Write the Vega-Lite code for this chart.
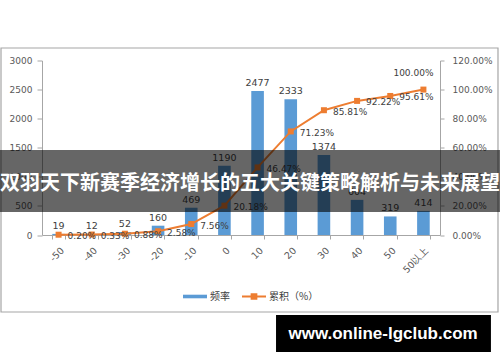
{
  "$schema": "https://vega.github.io/schema/vega-lite/v6.json",
  "width": 398,
  "height": 174.5,
  "autosize": {"type": "none"},
  "padding": {"left": 42, "top": 60.5, "right": 60, "bottom": 127},
  "background": "white",
  "config": {
    "view": {"stroke": null},
    "font": "DejaVu Sans",
    "axis": {"grid": false, "title": null, "domainColor": "#A6A6A6", "tickColor": "#A6A6A6", "labelColor": "#595959", "labelFontSize": 9, "labelFont": "DejaVu Sans", "labelOverlap": false, "labelFlush": false}
  },
  "datasets": {
    "pareto": [
      {"cat": "-50", "freq": 19, "cum": 0.20, "cumText": "0.20%"},
      {"cat": "-40", "freq": 12, "cum": 0.33, "cumText": "0.33%"},
      {"cat": "-30", "freq": 52, "cum": 0.88, "cumText": "0.88%"},
      {"cat": "-20", "freq": 160, "cum": 2.58, "cumText": "2.58%"},
      {"cat": "-10", "freq": 469, "cum": 7.56, "cumText": "7.56%"},
      {"cat": "0", "freq": 1190, "cum": 20.18, "cumText": "20.18%"},
      {"cat": "10", "freq": 2477, "cum": 46.47, "cumText": "46.47%"},
      {"cat": "20", "freq": 2333, "cum": 71.23, "cumText": "71.23%"},
      {"cat": "30", "freq": 1374, "cum": 85.81, "cumText": "85.81%"},
      {"cat": "40", "freq": 604, "cum": 92.22, "cumText": "92.22%"},
      {"cat": "50", "freq": 319, "cum": 95.61, "cumText": "95.61%"},
      {"cat": "50以上", "freq": 414, "cum": 100.00, "cumText": "100.00%"}
    ]
  },
  "layer": [
    {
      "data": {"values": [{}]},
      "mark": {"type": "rect", "fill": "transparent", "stroke": "#A6A6A6", "strokeWidth": 1.2},
      "encoding": {
        "x": {"datum": -0.103, "type": "quantitative", "scale": {"domain": [0, 1], "nice": false, "zero": false}, "axis": null},
        "x2": {"datum": 1.1457},
        "y": {"datum": 1.0716, "type": "quantitative", "scale": {"domain": [0, 1], "nice": false, "zero": false}, "axis": null},
        "y2": {"datum": -0.4413}
      }
    },
    {
      "data": {"name": "pareto"},
      "encoding": {
        "x": {"field": "cat", "type": "nominal", "sort": null, "scale": {"paddingInner": 0.62, "paddingOuter": 0.31},
          "axis": {"labelAngle": -45, "tickBand": "extent", "tickSize": 4, "labelPadding": 6, "labelFontSize": 9.5, "title": null}},
        "y": {"field": "freq", "type": "quantitative", "scale": {"domain": [0, 3000], "nice": false},
          "axis": {"orient": "left", "values": [0, 500, 1000, 1500, 2000, 2500, 3000], "format": "d", "tickSize": 5, "labelPadding": 5, "title": null}}
      },
      "layer": [
        {
          "mark": {"type": "bar"},
          "encoding": {
            "color": {"datum": "频率", "type": "nominal",
              "scale": {"domain": ["频率", "累积（%）"], "range": ["#5B9BD5", "#ED7D31"]},
              "legend": {"orient": "none", "legendX": 141, "legendY": 224, "direction": "horizontal", "title": null,
                "symbolSize": 576, "labelFontSize": 10, "labelColor": "#404040", "labelFont": "Noto Sans CJK SC",
                "columnPadding": 12, "symbolStrokeWidth": 0, "labelOffset": 3,
                "encode": {"symbols": {"update": {
                  "shape": {"signal": "datum.value === '频率' ? 'M-1,-0.15H1V0.15H-1Z' : 'M-1,-0.08H1V0.08H-1ZM-0.28,-0.28H0.28V0.28H-0.28Z'"},
                  "fill": {"signal": "datum.value === '频率' ? '#5B9BD5' : '#ED7D31'"},
                  "stroke": {"value": "transparent"},
                  "opacity": {"value": 1}}}}}}
          }
        },
        {
          "mark": {"type": "text", "baseline": "alphabetic", "dy": -5, "fontSize": 9.5, "color": "#404040"},
          "encoding": {
            "text": {"field": "freq", "type": "quantitative"}
          }
        }
      ]
    },
    {
      "data": {"name": "pareto"},
      "encoding": {
        "x": {"field": "cat", "type": "nominal", "sort": null, "scale": {"paddingInner": 0.62, "paddingOuter": 0.31}, "axis": null},
        "y": {"field": "cum", "type": "quantitative", "scale": {"domain": [0, 120], "nice": false},
          "axis": {"orient": "right", "values": [0, 20, 40, 60, 80, 100, 120], "labelExpr": "format(datum.value, '.2f') + '%'", "tickSize": 4, "labelPadding": 8, "title": null}}
      },
      "layer": [
        {
          "mark": {"type": "line", "strokeWidth": 2},
          "encoding": {
            "color": {"datum": "累积（%）", "type": "nominal"}
          }
        },
        {
          "mark": {"type": "point", "shape": "square", "filled": true, "size": 36, "opacity": 1, "color": "#ED7D31"}
        },
        {
          "transform": [{"filter": "datum.cat !== '50以上'"}],
          "mark": {"type": "text", "align": "left", "baseline": "middle", "dx": 9, "dy": 1.5, "fontSize": 9, "color": "#404040"},
          "encoding": {
            "text": {"field": "cumText"}
          }
        },
        {
          "transform": [{"filter": "datum.cat === '50以上'"}],
          "mark": {"type": "text", "align": "center", "baseline": "middle", "dx": -10, "dy": -16.5, "fontSize": 9, "color": "#404040"},
          "encoding": {
            "text": {"field": "cumText"}
          }
        }
      ]
    },
    {
      "data": {"values": [{}]},
      "layer": [
        {
          "mark": {"type": "rect", "color": "#000000", "opacity": 0.6},
          "encoding": {
            "x": {"datum": -0.11, "type": "quantitative", "scale": {"domain": [0, 1], "nice": false, "zero": false}, "axis": null},
            "x2": {"datum": 1.16},
            "y": {"datum": 0.487, "type": "quantitative", "scale": {"domain": [0, 1], "nice": false, "zero": false}, "axis": null},
            "y2": {"datum": 0.132}
          }
        },
        {
          "mark": {"type": "text", "align": "center", "baseline": "middle", "font": "Noto Sans CJK SC", "fontSize": 20, "fontWeight": "bold", "color": "#FFFFFF"},
          "encoding": {
            "x": {"datum": 0.5226, "type": "quantitative", "scale": {"domain": [0, 1], "nice": false, "zero": false}, "axis": null},
            "y": {"datum": 0.292, "type": "quantitative", "scale": {"domain": [0, 1], "nice": false, "zero": false}, "axis": null},
            "text": {"value": "双羽天下新赛季经济增长的五大关键策略解析与未来展望"}
          }
        },
        {
          "mark": {"type": "rect", "color": "#000000", "opacity": 1},
          "encoding": {
            "x": {"datum": 0.588, "type": "quantitative", "scale": {"domain": [0, 1], "nice": false, "zero": false}, "axis": null},
            "x2": {"datum": 1.128},
            "y": {"datum": -0.4585, "type": "quantitative", "scale": {"domain": [0, 1], "nice": false, "zero": false}, "axis": null},
            "y2": {"datum": -0.6705}
          }
        },
        {
          "mark": {"type": "text", "align": "center", "baseline": "middle", "font": "Liberation Sans", "fontSize": 17, "fontWeight": "bold", "color": "#FFFFFF"},
          "encoding": {
            "x": {"datum": 0.857, "type": "quantitative", "scale": {"domain": [0, 1], "nice": false, "zero": false}, "axis": null},
            "y": {"datum": -0.5645, "type": "quantitative", "scale": {"domain": [0, 1], "nice": false, "zero": false}, "axis": null},
            "text": {"value": "www.online-lgclub.com"}
          }
        }
      ]
    }
  ],
  "resolve": {"scale": {"x": "independent", "y": "independent"}}
}
